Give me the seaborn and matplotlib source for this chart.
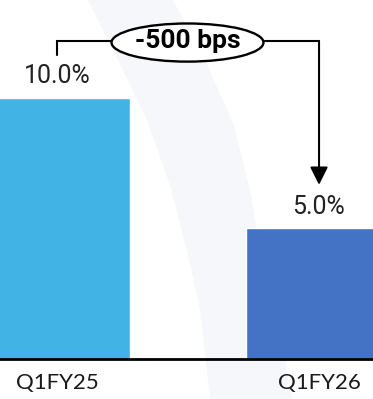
import matplotlib
matplotlib.use("Agg")
import matplotlib.pyplot as plt
from matplotlib.patches import Ellipse, Polygon
import seaborn as sns

# Chart data
quarters = ["Q1FY25", "Q1FY26"]
margin_pct = [10.0, 5.0]
value_labels = ["10.0%", "5.0%"]
change_label = "-500 bps"
bar_colors = ["#41B3E4", "#4472C4"]

sns.set_theme(style="white")
plt.rcParams["font.family"] = ["Roboto", "DejaVu Sans"]

W, H = 373, 399
fig = plt.figure(figsize=(W / 100, H / 100), dpi=100)
fig.patch.set_facecolor("white")

# faint decorative swoosh behind the chart (pixel coords, top-left origin)
left_edge = [(88, 0), (118, 60), (147, 120), (170, 185), (188, 255), (200, 310), (210, 399)]
right_edge = [(173, 0), (205, 60), (234, 125), (250, 190), (262, 260), (280, 330), (292, 399)]
pts = left_edge + right_edge[::-1]
swoosh = Polygon([(x / W, 1 - y / H) for x, y in pts], closed=True,
                 transform=fig.transFigure, facecolor="#F6F7FB", edgecolor="none", zorder=-5)
fig.patches.append(swoosh)

ax = fig.add_axes([0, 40 / H, 1, 359 / H])
ax.set_zorder(2)
ax.set_facecolor("none")

sns.barplot(x=quarters, y=margin_pct, hue=quarters, palette=bar_colors,
            width=0.557, legend=False, saturation=1, ax=ax)

ax.set_xlim(-0.2176, 1.206)
ax.set_ylim(0, 13.75)

for s in ["top", "left", "right"]:
    ax.spines[s].set_visible(False)
ax.spines["bottom"].set_color("black")
ax.spines["bottom"].set_linewidth(2)
ax.set_yticks([])
ax.tick_params(axis="x", length=0, pad=10)
for t in ax.get_xticklabels():
    t.set_fontfamily("Lato")
    t.set_fontsize(16)
    t.set_color("#1a1a1a")
ax.set_xlabel("")
ax.set_ylabel("")

# value labels above bars
for i, (v, lab) in enumerate(zip(margin_pct, value_labels)):
    ax.annotate(lab, xy=(i, v), xytext=(0, 7), textcoords="offset points",
                ha="center", va="bottom", fontsize=18, color="#222222",
                fontfamily="Roboto")

# change bracket with arrow into the second bar
bracket_y = 12.18
ax.plot([0, 0, 1], [11.65, bracket_y, bracket_y], color="black", lw=1.5,
        solid_joinstyle="miter", zorder=3, clip_on=False)
ax.annotate("", xy=(1, 6.67), xytext=(1, bracket_y),
            arrowprops=dict(arrowstyle="-|>,head_length=0.6,head_width=0.3",
                            mutation_scale=18, color="black", lw=1.5,
                            shrinkA=0, shrinkB=0), zorder=3)
ax.add_patch(Ellipse((0.498, 12.12), 0.58, 1.46, facecolor="white",
                     edgecolor="black", lw=1.7, zorder=4, clip_on=False))
ax.text(0.498, 12.17, change_label, ha="center", va="center", fontsize=19,
        fontweight="bold", fontfamily="Roboto", color="black", zorder=5)

fig.savefig("out.png", dpi=100)
